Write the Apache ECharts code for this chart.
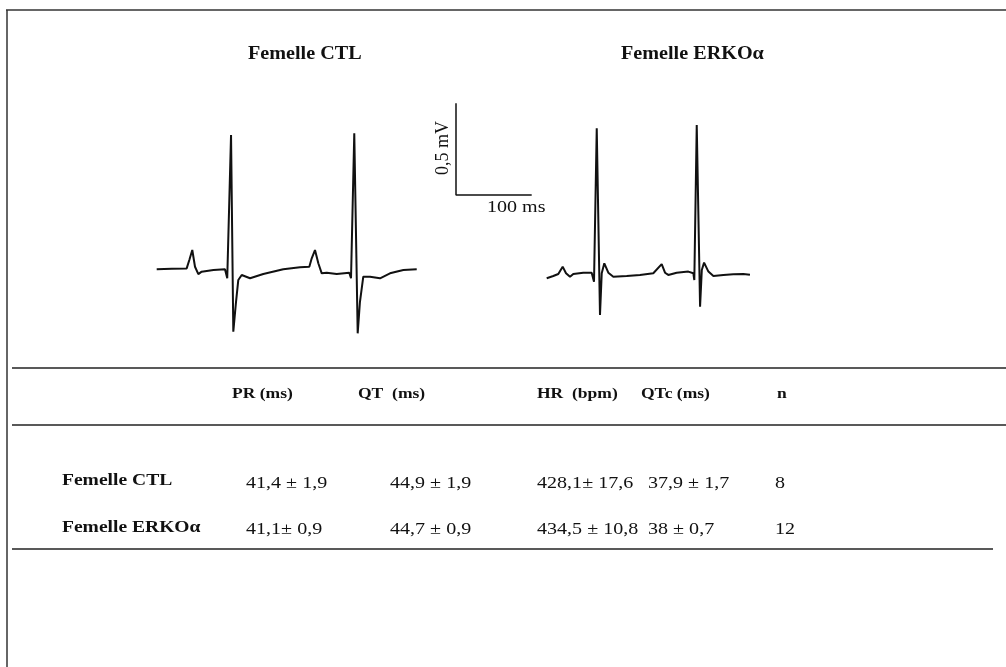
<!DOCTYPE html>
<html>
<head>
<meta charset="utf-8">
<title>ECG Femelle CTL / ERKOα</title>
<script src="https://cdn.jsdelivr.net/npm/echarts@6/dist/echarts.min.js"></script>
<style>
  html, body { margin: 0; padding: 0; background: #fff; }
  #chart { width: 1006px; height: 667px; }
</style>
</head>
<body>
<div id="chart"></div>
<script>
// ECG traces: [time (ms), voltage (mV)] relative to each trace's own baseline
const ctlTrace = [
  [0, 0], [20, 0.003], [39.6, 0.005], [43.1, 0.051], [47.0, 0.105], [50.6, 0.014],
  [55.0, -0.026], [59.4, -0.013], [75, -0.004], [90.2, 0], [93.2, -0.049],
  [98.2, 0.732], [101.2, -0.340], [104.8, -0.177], [107.8, -0.058], [112.3, -0.031],
  [123.3, -0.049], [140.8, -0.026], [167.2, 0], [189.3, 0.011], [201.6, 0.014],
  [204.8, 0.060], [209.1, 0.105], [213.5, 0.033], [218.0, -0.022], [224.6, -0.019],
  [237.8, -0.026], [254.4, -0.019], [256.7, -0.049], [261.0, 0.741], [265.5, -0.349],
  [268.5, -0.177], [272.9, -0.040], [281.8, -0.040], [295.0, -0.049], [308.2, -0.022],
  [325.8, -0.004], [343.5, 0]
];
const erkoTrace = [
  [0, -0.023], [8.7, -0.011], [15.3, 0], [21.1, 0.040], [25.5, 0.004], [30.8, -0.015],
  [35.1, 0], [48.3, 0.007], [59.4, 0.007], [62.5, -0.042], [66.1, 0.794], [70.4, -0.223],
  [72.7, 0.004], [76.1, 0.058], [81.4, 0.007], [88.0, -0.015], [105.7, -0.011],
  [123.2, -0.005], [140.8, 0.004], [151.9, 0.054], [156.3, 0.007], [160.6, -0.005],
  [171.7, 0.007], [187.1, 0.013], [193.7, 0.004], [195.0, -0.033], [198.2, 0.812],
  [202.6, -0.178], [204.9, 0.022], [207.9, 0.062], [213.6, 0.013], [220.2, -0.011],
  [233.4, -0.005], [246.5, -0.002], [259.7, 0], [268.5, -0.004]
];

// Calibration bar
const scaleBarMs = 100;
const scaleBarMv = 0.5;
const scaleBarLabels = ['0,5 mV', '100 ms'];

// Trace titles
const traceTitles = ['Femelle CTL', 'Femelle ERKOα'];

// Table
const tableHeaders = ['PR (ms)', 'QT  (ms)', 'HR  (bpm)', 'QTc (ms)', 'n'];
const rowLabels = ['Femelle CTL', 'Femelle ERKOα'];
const ctlValues = ['41,4 ± 1,9', '44,9 ± 1,9', '428,1± 17,6', '37,9 ± 1,7', '8'];
const erkoValues = ['41,1± 0,9', '44,7 ± 0,9', '434,5 ± 10,8', '38 ± 0,7', '12'];

// ---- layout (pixels) ----
const W = 1006, H = 667;
const PX_PER_MS = 0.757;
const PX_PER_MV = 183.5;
const BASE_Y = 269.3;                       // pixel row of 0 mV
const xMaxMs = W / PX_PER_MS;
const yMaxMv = BASE_Y / PX_PER_MV;
const yMinMv = yMaxMv - H / PX_PER_MV;
const msAt = px => px / PX_PER_MS;
const mvAt = py => (BASE_Y - py) / PX_PER_MV;

const ctlStart = msAt(156.7), ctlBase = mvAt(269.3);
const erkoStart = msAt(546.7), erkoBase = mvAt(274);
const barX = msAt(456), barY = mvAt(195);

const place = (trace, t0, v0) => trace.map(([t, v]) => [t0 + t, v0 + v]);

const SERIF = '"Liberation Serif", "Times New Roman", serif';
const INK = '#111';

function txt(x, y, s, size, bold, sx, extra) {
  return Object.assign({
    type: 'text', x: x, y: y, scaleX: sx || 1,
    style: {
      text: s, fill: INK,
      font: (bold ? 'bold ' : '') + size + 'px ' + SERIF,
      textAlign: 'left', textVerticalAlign: 'middle'
    }
  }, extra || {});
}
function hline(x1, x2, y, w, c) {
  return { type: 'line', shape: { x1: x1, y1: y, x2: x2, y2: y },
           style: { stroke: c || '#222', lineWidth: w || 1.5 } };
}

const colX = [246, 390, 537, 648, 775];
const headX = [232, 358, 537, 641, 777];
const graphics = [
  // frame
  hline(6, W, 10, 1.5, '#333'),
  { type: 'line', shape: { x1: 7, y1: 10, x2: 7, y2: H }, style: { stroke: '#333', lineWidth: 1.5 } },
  // titles
  txt(248, 54, traceTitles[0], 18, true, 1.12),
  txt(621, 54, traceTitles[1], 18, true, 1.12),
  // calibration labels
  txt(443, 148, scaleBarLabels[0], 18, false, 1, { rotation: Math.PI / 2,
      style: { text: scaleBarLabels[0], fill: INK, font: '18px ' + SERIF,
               textAlign: 'center', textVerticalAlign: 'middle' } }),
  txt(487, 208, scaleBarLabels[1], 17, false, 1.18),
  // table rules
  hline(12, W, 368, 1.5),
  hline(12, W, 425, 1.5),
  hline(12, 993, 549, 1.5)
];
tableHeaders.forEach((h, i) => graphics.push(txt(headX[i], 394, h, 15.5, true, 1.13)));
graphics.push(txt(62, 481, rowLabels[0], 17, true, 1.15));
graphics.push(txt(62, 528, rowLabels[1], 17, true, 1.15));
ctlValues.forEach((v, i) => graphics.push(txt(colX[i], 484, v, 17, false, 1.18)));
erkoValues.forEach((v, i) => graphics.push(txt(colX[i], 530, v, 17, false, 1.18)));

const chart = echarts.init(document.getElementById('chart'), null, { renderer: 'canvas' });
chart.setOption({
  animation: false,
  backgroundColor: '#fff',
  grid: { left: 0, right: 0, top: 0, bottom: 0, containLabel: false },
  xAxis: { type: 'value', min: 0, max: xMaxMs, show: false },
  yAxis: { type: 'value', min: yMinMv, max: yMaxMv, show: false },
  series: [
    { name: traceTitles[0], type: 'line', data: place(ctlTrace, ctlStart, ctlBase),
      showSymbol: false, clip: false, lineStyle: { color: INK, width: 2 } },
    { name: traceTitles[1], type: 'line', data: place(erkoTrace, erkoStart, erkoBase),
      showSymbol: false, clip: false, lineStyle: { color: INK, width: 2 } },
    { name: 'calibration', type: 'line',
      data: [[barX, barY + scaleBarMv], [barX, barY], [barX + scaleBarMs, barY]],
      showSymbol: false, clip: false, lineStyle: { color: INK, width: 1.5 } }
  ],
  graphic: graphics
});
</script>
</body>
</html>
